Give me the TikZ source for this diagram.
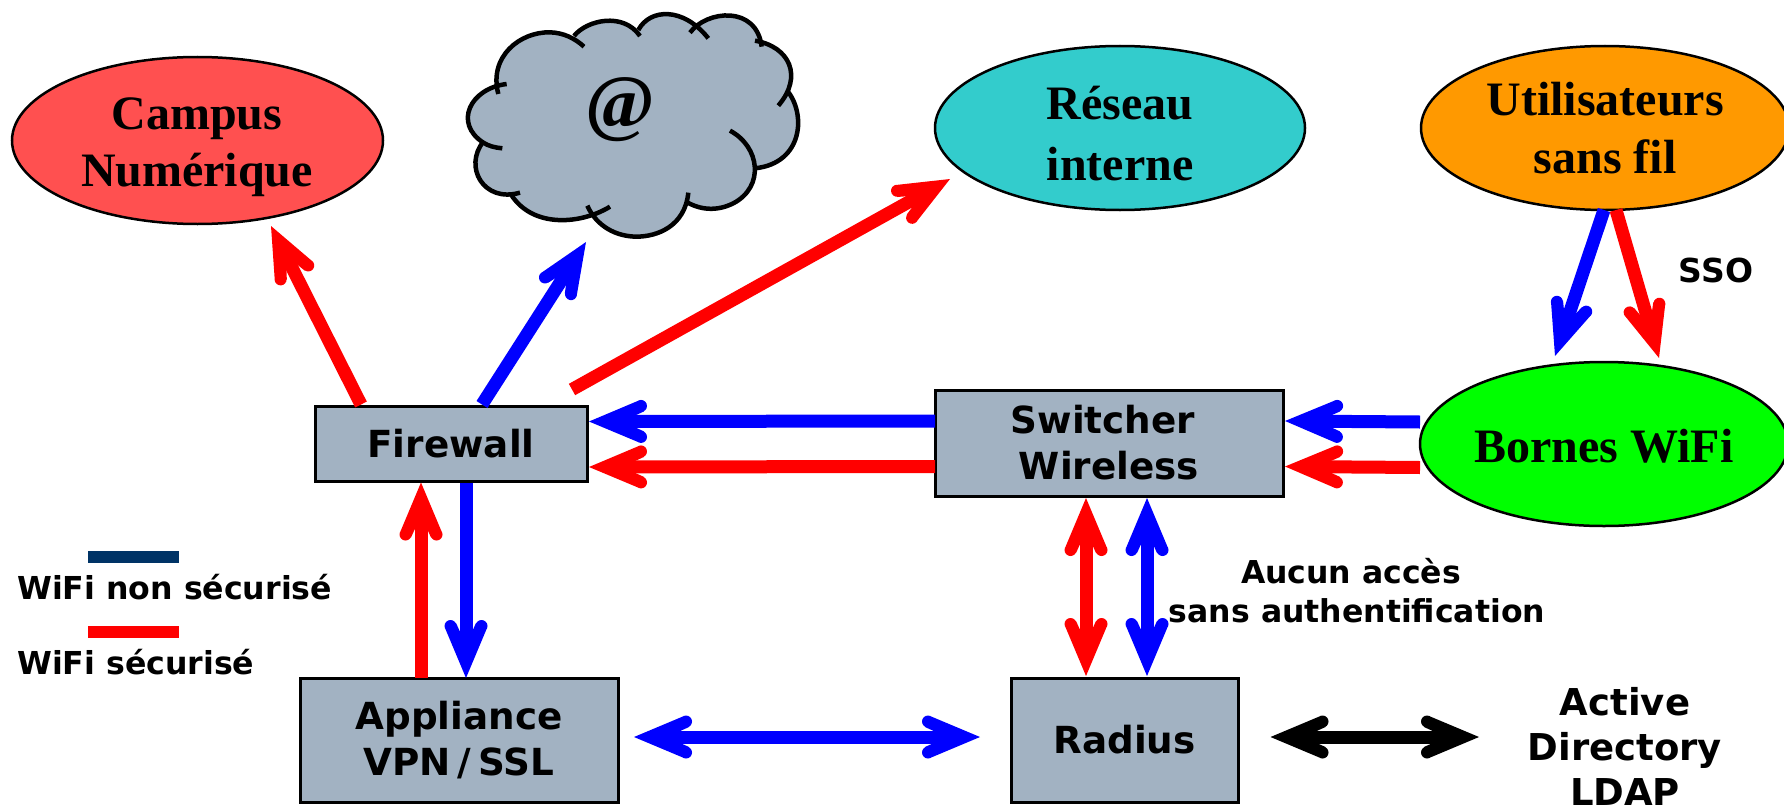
\documentclass[tikz,border=0pt]{standalone}
\usepackage{fontspec}
\usetikzlibrary{shapes.geometric,arrows.meta}
\newfontfamily\dvb[Ligatures=TeX]{DejaVu Sans Bold}
\newfontfamily\lsb{Liberation Serif Bold}
\definecolor{boxgrey}{HTML}{A2B2C2}
\definecolor{campusred}{HTML}{FF5050}
\definecolor{teal}{HTML}{33CCCC}
\definecolor{orangeu}{HTML}{FF9900}
\definecolor{navy}{HTML}{003366}
\pgfdeclarearrow{
  name=Barb,
  setup code={
    \pgfarrowssettipend{0pt}
    \pgfarrowssetlineend{-36pt}
    \pgfarrowssetvisualbackend{-44pt}
    \pgfarrowssetbackend{-58pt}
  },
  drawing code={
    \pgfpathmoveto{\pgfpoint{0pt}{0pt}}
    \pgfpathlineto{\pgfpoint{-50pt}{21pt}}
    \pgfpathlineto{\pgfpoint{-55pt}{10pt}}
    \pgfpathlineto{\pgfpoint{-44pt}{5pt}}
    \pgfpathlineto{\pgfpoint{-44pt}{-5pt}}
    \pgfpathlineto{\pgfpoint{-55pt}{-10pt}}
    \pgfpathlineto{\pgfpoint{-50pt}{-21pt}}
    \pgfpathclose
    \pgfpathcircle{\pgfpoint{-52pt}{15.5pt}}{6pt}
    \pgfpathcircle{\pgfpoint{-52pt}{-15.5pt}}{6pt}
    \pgfusepathqfill
  }
}
\tikzset{
  box/.style={draw=black,line width=3pt,fill=boxgrey,rectangle,inner sep=0pt,align=center,font=\dvb\fontsize{37.3}{46}\selectfont},
  blob/.style={draw=black,line width=2.5pt,ellipse,inner sep=0pt,align=center,font=\lsb\fontsize{48}{58}\selectfont},
  blobtext/.style={inner sep=0pt,align=center,font=\lsb\fontsize{48}{57}\selectfont},
  lab/.style={inner sep=0pt,align=center,font=\dvb\fontsize{31.5}{39}\selectfont},
  adlab/.style={inner sep=0pt,align=center,font=\dvb\fontsize{37}{45}\selectfont},
  leg/.style={inner sep=0pt,anchor=west,font=\dvb\fontsize{31.6}{34}\selectfont},
  link/.style={line width=13pt,-{Barb}},
  both/.style={line width=13pt,{Barb}-{Barb}},
  cloudline/.style={line width=4.5pt,line cap=butt},
  legbar/.style={draw=none,inner sep=0pt,minimum width=91pt,minimum height=12.5pt}
}
\begin{document}
\begin{tikzpicture}[x=1pt,y=-1pt]
\useasboundingbox (0,0) rectangle (1784,808);
% cloud
\begin{scope}[shift={(440,0)},x=0.3333pt,y=-0.3333pt]
\fill[boxgrey] (175,282) .. controls (145,170) and (240,95) .. (330,97) .. controls (370,98) and (405,115) .. (432,140)
 -- (402,108) .. controls (440,60) and (550,35) .. (600,108)
 -- (595,90) .. controls (630,25) and (730,20) .. (805,115)
 -- (750,98) .. controls (800,30) and (950,15) .. (965,140)
 -- (945,122) .. controls (1050,140) and (1090,230) .. (1015,317)
 -- (1040,270) .. controls (1100,340) and (1090,490) .. (945,505)
 -- (870,392) .. controls (960,440) and (975,560) .. (880,610) .. controls (830,635) and (780,630) .. (738,605)
 -- (745,578) .. controls (735,680) and (650,710) .. (590,710) .. controls (530,710) and (470,680) .. (442,617)
 -- (510,620) .. controls (430,670) and (280,690) .. (212,582)
 -- (240,578) .. controls (130,610) and (70,500) .. (130,425)
 -- (187,445) -- (130,428) .. controls (40,370) and (90,265) .. (200,252) -- cycle;
\draw[cloudline] (175,282) .. controls (145,170) and (240,95) .. (330,97) .. controls (370,98) and (405,115) .. (432,140);
\draw[cloudline] (402,108) .. controls (440,60) and (550,35) .. (600,108);
\draw[cloudline] (595,90) .. controls (630,25) and (730,20) .. (805,115);
\draw[cloudline] (750,98) .. controls (800,30) and (950,15) .. (965,140);
\draw[cloudline] (945,122) .. controls (1050,140) and (1090,230) .. (1015,317);
\draw[cloudline] (1040,270) .. controls (1100,340) and (1090,490) .. (945,505);
\draw[cloudline] (870,392) .. controls (960,440) and (975,560) .. (880,610) .. controls (830,635) and (780,630) .. (738,605);
\draw[cloudline] (745,578) .. controls (735,680) and (650,710) .. (590,710) .. controls (530,710) and (470,680) .. (442,617);
\draw[cloudline] (510,620) .. controls (430,670) and (280,690) .. (212,582);
\draw[cloudline] (240,578) .. controls (130,610) and (70,500) .. (130,425);
\draw[cloudline] (200,252) .. controls (90,265) and (40,370) .. (130,428) .. controls (145,438) and (165,443) .. (187,445);
\end{scope}
\node[inner sep=0pt,font=\lsb\fontsize{75}{75}\selectfont] (cloud) at (620,110) {@};
% ellipses
\node[blob,fill=campusred,minimum width=371pt,minimum height=167pt] (campus) at (197.5,140.5) {};
\node[blobtext] (campustext) at (197,147) {Campus\\Numérique};
\node[blob,fill=teal,minimum width=370pt,minimum height=164pt] (reseau) at (1120,128) {};
\node[blobtext,font=\lsb\fontsize{48}{61}\selectfont] (reseautext) at (1120,134) {Réseau\\interne};
\node[blob,fill=orangeu,minimum width=368pt,minimum height=164pt] (util) at (1605,128) {Utilisateurs\\sans fil};
\node[blob,fill=green,minimum width=368pt,minimum height=164pt] (bornes) at (1604,444) {};
\node[blobtext] (bornestext) at (1604,446) {Bornes WiFi};
% boxes
\node[box,minimum width=272pt,minimum height=75pt] (fw) at (451,443.5) {Firewall};
\node[box,minimum width=318pt,minimum height=124pt] (app) at (459,740) {Appliance\\VPN\kern7pt/\kern7pt SSL};
\node[box,minimum width=348pt,minimum height=106pt] (sw) at (1109,443) {Switcher\hspace*{12pt}\\Wireless};
\node[box,minimum width=227pt,minimum height=124pt] (rad) at (1124.5,740) {Radius};
% texts
\node[adlab] (ad) at (1625,746) {Active\\Directory\\LDAP};
\node[lab,font=\dvb\fontsize{33}{40}\selectfont] (sso) at (1716,270) {SSO};
\node[lab] (aucun) at (1357,591) {Aucun accès\hspace*{12pt}\\sans authentification};
% legend
\node[legbar,fill=navy] (barb) at (133.5,557) {};
\node[leg] (legb) at (17,587) {WiFi non sécurisé};
\node[legbar,fill=red] (barr) at (133.5,632) {};
\node[leg] (legr) at (17,662) {WiFi sécurisé};
% connectors
\draw[link,red] ([shift={(-90,-39)}]fw.center) -- ([shift={(73.5,85.5)}]campus.center);
\draw[link,blue] ([shift={(31,-39)}]fw.center) -- ([shift={(-34,132)}]cloud.center);
\draw[link,red] ([shift={(121,-54)}]fw.center) -- ([shift={(-170,51)}]reseau.center);
\draw[link,blue] ([shift={(-174,-22)}]sw.center) -- ([shift={(138,-22)}]fw.center);
\draw[link,red] ([shift={(-174,23.5)}]sw.center) -- ([shift={(138,23.5)}]fw.center);
\draw[link,blue] ([shift={(-184,-22)}]bornes.center) -- ([shift={(176,-22)}]sw.center);
\draw[link,red] ([shift={(-184,23.5)}]bornes.center) -- ([shift={(176,23.5)}]sw.center);
\draw[link,blue] ([shift={(-1,82)}]util.center) -- ([shift={(-49,-88)}]bornes.center);
\draw[link,red] ([shift={(11,82)}]util.center) -- ([shift={(55,-86)}]bornes.center);
\draw[link,red] ([shift={(-38,-62)}]app.center) -- ([shift={(-30,39)}]fw.center);
\draw[link,blue] ([shift={(15,39)}]fw.center) -- ([shift={(7,-62)}]app.center);
\draw[both,red] ([shift={(-23,55)}]sw.center) -- ([shift={(-38.5,-64)}]rad.center);
\draw[both,blue] ([shift={(38,55)}]sw.center) -- ([shift={(22.5,-64)}]rad.center);
\draw[both,blue] ([shift={(175,-3)}]app.center) -- ([shift={(-144.5,-3)}]rad.center);
\draw[both,black] ([shift={(146,-3)}]rad.center) -- ([shift={(-146,-9)}]ad.center);
\end{tikzpicture}
\end{document}
